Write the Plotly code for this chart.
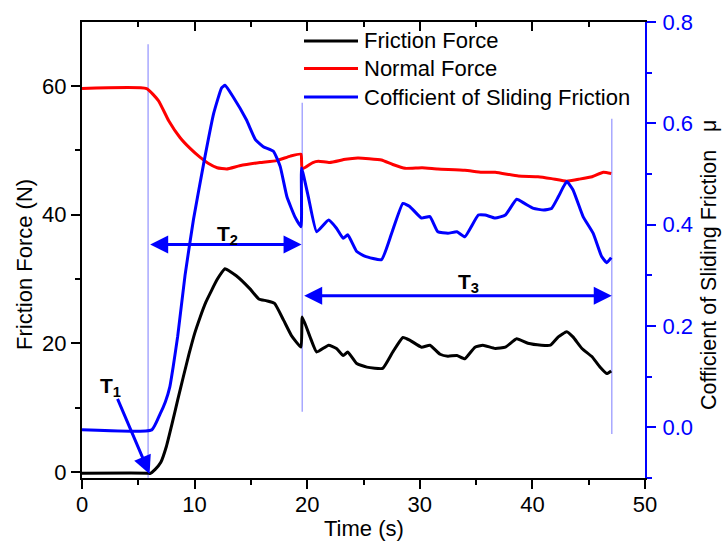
import plotly.graph_objects as go

# ---------------- data ----------------
t_friction = [0, 5.9, 6.04, 6.5, 7.0, 7.5, 8.0, 8.5, 9.0, 9.5, 10.0, 10.5, 11.0, 11.5, 12.0, 12.4, 12.7,
              13.7, 14.9, 15.7, 16.4, 17.1, 17.9, 18.6, 19.45, 19.56, 20.25, 20.84, 21.9, 22.6, 23.2,
              23.6, 24.4, 25.3, 26.7, 27.6, 28.5, 29.1, 30.15, 30.9, 31.8, 32.5, 33.3, 34.0, 34.9,
              35.6, 36.7, 37.6, 38.6, 39.6, 40.8, 41.6, 42.3, 43.05, 43.6, 44.4, 45.3, 46.0, 46.6, 47.0]
friction_force = [-0.2, -0.2, -0.25, 0.4, 1.5, 4.0, 7.5, 11.2, 14.8, 18.3, 21.5, 24.1, 26.4, 28.2, 29.9,
                  31.0, 31.6, 30.5, 28.5, 26.9, 26.6, 26.2, 23.6, 21.2, 19.4, 24.1, 21.0, 18.65, 19.7,
                  19.2, 18.1, 18.65, 16.85, 16.3, 16.1, 18.65, 20.9, 20.5, 19.4, 19.7, 18.3, 18.0, 18.1,
                  17.6, 19.4, 19.7, 19.2, 19.4, 20.7, 20.0, 19.7, 19.7, 21.0, 21.8, 21.0, 19.2, 17.9,
                  16.3, 15.3, 15.7]

t_normal = [0, 5.74, 6.8, 7.7, 8.7, 9.6, 10.5, 11.2, 12.0, 12.85, 14.0, 15.8, 17.3, 18.5, 19.45, 19.55,
            20.5, 21.0, 22.0, 23.4, 24.5, 25.5, 26.6, 27.6, 28.7, 30.2, 31.6, 34.0, 35.5, 36.7, 38.75,
            40.5, 41.7, 43.05, 44.1, 45.3, 46.3, 47.0]
normal_force = [59.6, 59.6, 57.7, 54.6, 52.0, 50.3, 48.9, 48.0, 47.3, 47.1, 47.6, 48.1, 48.4, 49.1, 49.4,
                47.1, 48.1, 48.3, 48.1, 48.6, 48.8, 48.7, 48.5, 47.8, 47.2, 47.3, 47.1, 46.9, 46.6, 46.6,
                46.0, 45.9, 45.6, 45.2, 45.5, 45.9, 46.6, 46.4]

t_mu = [0, 6.2, 6.93, 7.4, 7.8, 8.1, 8.5, 9.15, 9.9, 10.8, 11.7, 12.4, 12.7, 13.4, 14.6, 15.4, 16.1,
        17.0, 17.6, 18.2, 18.9, 19.45, 19.5, 20.1, 20.84, 21.9, 22.6, 23.2, 23.6, 24.4, 25.1, 26.6,
        27.5, 28.5, 29.1, 30.15, 30.9, 31.6, 32.5, 33.3, 34.0, 35.2, 35.8, 36.7, 37.6, 38.6, 39.3,
        40.1, 41.0, 41.7, 42.3, 43.05, 43.6, 44.5, 45.4, 46.15, 46.6, 47.0]
mu = [-0.005, -0.005, 0.026, 0.05, 0.08, 0.12, 0.18, 0.30, 0.41, 0.52, 0.62, 0.67, 0.675, 0.653, 0.607,
      0.568, 0.554, 0.545, 0.515, 0.455, 0.416, 0.396, 0.512, 0.455, 0.386, 0.409, 0.393, 0.373, 0.38,
      0.347, 0.338, 0.331, 0.383, 0.442, 0.436, 0.413, 0.416, 0.386, 0.383, 0.386, 0.376, 0.419, 0.419,
      0.413, 0.419, 0.450, 0.442, 0.432, 0.429, 0.432, 0.455, 0.485, 0.469, 0.416, 0.383, 0.337, 0.325,
      0.335]

# stage boundary markers (time, top value, bottom value) in left-axis units
stage_t = [5.87, 19.56, 47.05]
stage_top = [66.5, 57.4, 54.9]
stage_bottom = [-0.9, 9.35, 5.9]

series_names = ["Friction Force", "Normal Force", "Cofficient of Sliding Friction"]
series_colors = ["black", "#ff0000", "#0000ff"]

FONT = "Liberation Sans, Arial, sans-serif"
BLUE = "#0000ff"

W, H = 722, 543
L, R, T, B = 82, 77, 22, 65
pw, ph = W - L - R, H - T - B


def px_to_paper(px, py):
    return (px - L) / pw, 1 - (py - T) / ph


fig = go.Figure()
fig.add_trace(go.Scatter(x=t_friction, y=friction_force, name=series_names[0], mode="lines",
                         line=dict(color=series_colors[0], width=3, shape="spline", smoothing=0.4)))
fig.add_trace(go.Scatter(x=t_normal, y=normal_force, name=series_names[1], mode="lines",
                         line=dict(color=series_colors[1], width=3, shape="spline", smoothing=0.4)))
fig.add_trace(go.Scatter(x=t_mu, y=mu, name=series_names[2], mode="lines", yaxis="y2",
                         line=dict(color=series_colors[2], width=3, shape="spline", smoothing=0.4)))
# helper trace so the top axis (inward ticks) is drawn
fig.add_trace(go.Scatter(x=[None], y=[None], xaxis="x2", yaxis="y", showlegend=False, hoverinfo="skip"))

for tx, y0, y1 in zip(stage_t, stage_top, stage_bottom):
    fig.add_shape(type="line", xref="x", yref="y", x0=tx, x1=tx, y0=y0, y1=y1,
                  line=dict(color="#a8a8ff", width=1.5), layer="below")

# arrows
arrows = [
    dict(x=19.5, y=35.35, ax=5.92, ay=35.35, side="end+start"),
    dict(x=47.05, y=27.4, ax=19.6, ay=27.4, side="end+start"),
    dict(x=6.0, y=-0.3, ax=3.1, ay=11.6, side="end"),
]
for a in arrows:
    fig.add_annotation(x=a["x"], y=a["y"], ax=a["ax"], ay=a["ay"], xref="x", yref="y",
                       axref="x", ayref="y", text="", showarrow=True, arrowhead=2,
                       arrowsize=1.2, arrowwidth=3, arrowcolor=BLUE, arrowside=a["side"],
                       standoff=0, startstandoff=0)

labels = [("T<sub>1</sub>", 2.55, 13.2), ("T<sub>2</sub>", 12.9, 36.8), ("T<sub>3</sub>", 34.3, 29.3)]
for txt, lx, ly in labels:
    fig.add_annotation(x=lx, y=ly, xref="x", yref="y", text="<b>" + txt + "</b>", showarrow=False,
                       font=dict(family=FONT, size=21, color="black"))

# manual legend (long line samples, tight row spacing as in the reference)
legend_rows_py = [41, 68.5, 97]
for name, col, ry in zip(series_names, series_colors, legend_rows_py):
    x0, yy = px_to_paper(304, ry)
    x1, _ = px_to_paper(358, ry)
    fig.add_shape(type="line", xref="paper", yref="paper", x0=x0, x1=x1, y0=yy, y1=yy,
                  line=dict(color=col, width=3))
    tx, _ = px_to_paper(362, ry)
    fig.add_annotation(x=tx, y=yy, xref="paper", yref="paper", text=name, showarrow=False,
                       xanchor="left", yanchor="middle", font=dict(family=FONT, size=22, color="black"))

# axis titles
x_, y_ = px_to_paper(24, 265)
fig.add_annotation(x=x_, y=y_, xref="paper", yref="paper", text="Friction Force (N)", showarrow=False,
                   textangle=-90, xanchor="center", yanchor="middle",
                   font=dict(family=FONT, size=22, color="black"))
x_, y_ = px_to_paper(709, 265)
fig.add_annotation(x=x_, y=y_, xref="paper", yref="paper", text="Cofficient of Sliding Friction\u00a0\u00a0\u00a0μ",
                   showarrow=False, textangle=-90, xanchor="center", yanchor="middle",
                   font=dict(family=FONT, size=21.5, color="black"))
x_, y_ = px_to_paper(363.5, 528)
fig.add_annotation(x=x_, y=y_, xref="paper", yref="paper", text="Time (s)", showarrow=False,
                   xanchor="center", yanchor="middle", font=dict(family=FONT, size=22, color="black"))

axis_common = dict(showgrid=False, zeroline=False, showline=True, linewidth=2, ticks="outside",
                   ticklen=9, tickwidth=2, automargin=False,
                   tickfont=dict(family=FONT, size=22, color="black"))

fig.update_layout(
    width=W, height=H,
    margin=dict(l=L, r=R, t=T, b=B, pad=0),
    paper_bgcolor="white", plot_bgcolor="white",
    font=dict(family=FONT, size=22, color="black"),
    showlegend=False,
    xaxis=dict(range=[0, 50], dtick=10, tick0=0, linecolor="black", tickcolor="black",
               ticklabelstandoff=-3,
               minor=dict(dtick=5, ticklen=5, tickwidth=2, tickcolor="black", ticks="outside"),
               **axis_common),
    xaxis2=dict(range=[0, 50], overlaying="x", side="top", anchor="y", showgrid=False, zeroline=False,
                showline=True, linewidth=2, linecolor="black", ticks="inside", ticklen=9, tickwidth=2,
                tickcolor="black", dtick=10, tick0=0, showticklabels=False, automargin=False,
                minor=dict(dtick=5, ticklen=5, tickwidth=2, tickcolor="black", ticks="inside")),
    yaxis=dict(range=[-0.94, 69.95], dtick=20, tick0=0, linecolor="black", tickcolor="black",
               minor=dict(dtick=10, ticklen=5, tickwidth=2, tickcolor="black", ticks="outside"),
               **axis_common),
    yaxis2=dict(range=[-0.1, 0.8], dtick=0.2, tick0=0, tickformat=".1f", overlaying="y", side="right",
                anchor="x", showgrid=False, zeroline=False, showline=True, linewidth=2, linecolor=BLUE,
                ticks="outside", ticklen=9, tickwidth=2, tickcolor=BLUE, automargin=False,
                ticklabelstandoff=2,
                tickfont=dict(family=FONT, size=22, color=BLUE),
                minor=dict(dtick=0.1, ticklen=5, tickwidth=2, tickcolor=BLUE, ticks="outside")),
)

fig.write_html("out.html")
